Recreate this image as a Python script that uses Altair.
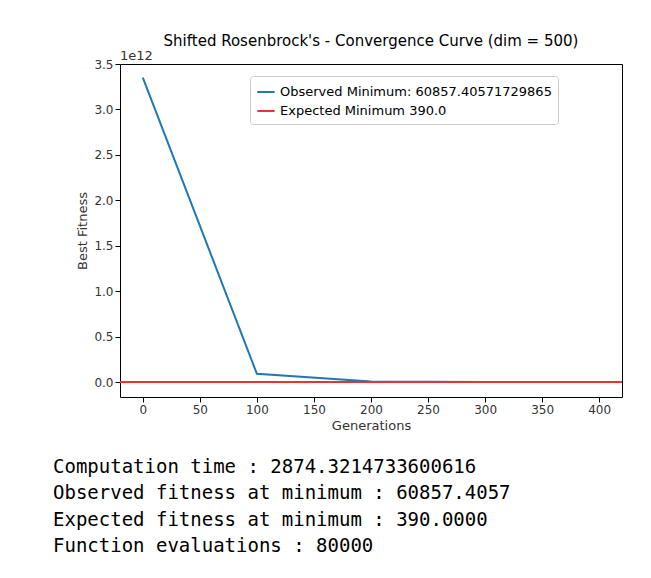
import altair as alt
import pandas as pd

generations = [0, 100, 200, 300, 400]
best_fitness = [3.35e12, 0.09e12, 0.006e12, 0.0005e12, 60857.40571729865]
expected_min = 390.0
observed_label = "Observed Minimum: 60857.40571729865"
expected_label = "Expected Minimum 390.0"
info_lines = [
    "Computation time : 2874.3214733600616",
    "Observed fitness at minimum : 60857.4057",
    "Expected fitness at minimum : 390.0000",
    "Function evaluations : 80000",
]

SCALE = 1e12
obs = pd.DataFrame({"gen": generations, "fit": [v / SCALE for v in best_fitness], "series": observed_label})
exp = pd.DataFrame({"fit": [expected_min / SCALE], "series": [expected_label]})

color = alt.Color(
    "series:N",
    scale=alt.Scale(domain=[observed_label, expected_label], range=["#1f77b4", "#f03030"]),
    legend=alt.Legend(
        title=None, orient="none", legendX=130, legendY=12, symbolType="stroke",
        symbolStrokeWidth=2, symbolSize=300, labelFontSize=13, labelFont="DejaVu Sans",
        strokeColor="#cccccc", padding=6, cornerRadius=3, fillColor="white", labelLimit=400,
    ),
)

line = alt.Chart(obs).mark_line(strokeWidth=2).encode(
    x=alt.X("gen:Q", title="Generations", scale=alt.Scale(domain=[-20, 420], nice=False),
            axis=alt.Axis(values=list(range(0, 401, 50)), grid=False)),
    y=alt.Y("fit:Q", title="Best Fitness", scale=alt.Scale(domain=[-0.165, 3.5], nice=False),
            axis=alt.Axis(values=[0, 0.5, 1, 1.5, 2, 2.5, 3, 3.5], format=".1f", grid=False)),
    color=color,
)

rule = alt.Chart(exp).mark_rule(strokeWidth=2).encode(y="fit:Q", color=color)

text_layers = [
    alt.Chart(pd.DataFrame({"txt": [t]})).mark_text(
        align="left", baseline="middle", font="DejaVu Sans Mono", fontSize=19, color="black"
    ).encode(x=alt.value(-67), y=alt.value(403 + 26.3 * i), text="txt:N")
    for i, t in enumerate(info_lines)
]

exp_tag = alt.Chart(pd.DataFrame({"t": ["1e12"]})).mark_text(
    align="left", baseline="bottom", fontSize=13, font="DejaVu Sans", color="#333"
).encode(x=alt.value(0), y=alt.value(-1), text="t:N")

chart = alt.layer(line, rule, exp_tag, *text_layers).properties(
    width=502, height=333,
    title=alt.TitleParams("Shifted Rosenbrock's - Convergence Curve (dim = 500)",
                          fontSize=15, fontWeight="normal", font="DejaVu Sans", offset=1),
    padding={"left": 112, "top": 56, "right": 20, "bottom": 160},
    autosize=alt.AutoSizeParams(type="none"),
).configure_view(stroke="black").configure_axis(
    labelFontSize=12, titleFontSize=13, labelFont="DejaVu Sans", titleFont="DejaVu Sans",
    titleFontWeight="normal", domain=False, tickColor="black", labelColor="#333", titleColor="#333",
)

chart.save("out.html", embed_options={"renderer": "svg", "actions": False})
